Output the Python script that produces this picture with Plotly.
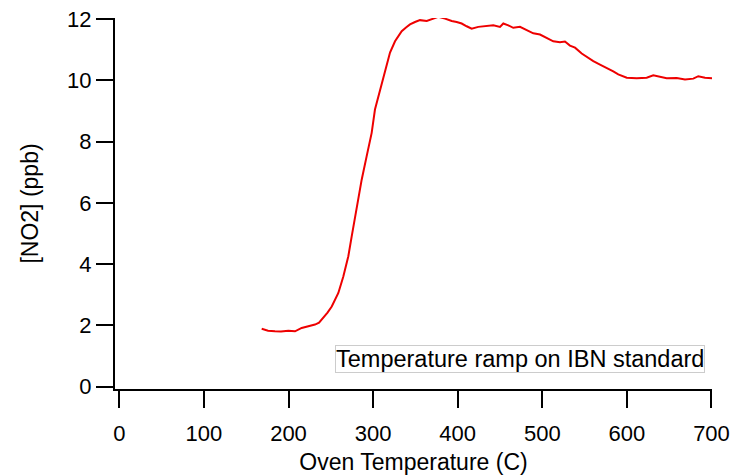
import plotly.graph_objects as go

oven_temp_c = [168.3, 175.8, 184.0, 191.1, 199.8, 207.7, 215.6, 223.0, 231.3, 236.1,
               241.1, 246.1, 251.1, 255.0, 258.9, 264.8, 270.7, 274.7, 278.6, 282.2,
               286.5, 292.4, 298.3, 302.2, 308.2, 314.1, 320.0, 325.9, 333.8, 338.9,
               343.6, 349.5, 355.4, 363.4, 369.3, 377.1, 385.0, 392.9, 398.8, 404.7,
               410.6, 416.5, 424.3, 434.3, 442.1, 450.0, 453.9, 459.8, 465.7, 473.6,
               481.6, 489.4, 497.3, 505.2, 513.0, 520.9, 526.8, 532.7, 538.7, 546.6,
               554.4, 560.3, 568.2, 576.1, 583.9, 589.8, 599.8, 611.6, 623.4, 631.2,
               639.1, 647.0, 658.9, 668.7, 678.5, 684.4, 692.3, 701.2]
no2_ppb = [1.89, 1.83, 1.81, 1.80, 1.83, 1.81, 1.92, 1.96, 2.03, 2.09,
           2.25, 2.42, 2.62, 2.84, 3.06, 3.60, 4.26, 4.91, 5.57, 6.11,
           6.76, 7.53, 8.29, 9.05, 9.71, 10.36, 10.91, 11.28, 11.61, 11.73,
           11.83, 11.91, 11.97, 11.94, 11.99, 12.08, 12.02, 11.94, 11.91, 11.86,
           11.77, 11.69, 11.75, 11.77, 11.80, 11.75, 11.86, 11.80, 11.72, 11.75,
           11.64, 11.54, 11.50, 11.40, 11.28, 11.25, 11.27, 11.14, 11.07, 10.88,
           10.74, 10.63, 10.52, 10.42, 10.30, 10.20, 10.09, 10.07, 10.09, 10.17,
           10.12, 10.07, 10.08, 10.03, 10.06, 10.14, 10.09, 10.07]

x_ticks = [0, 100, 200, 300, 400, 500, 600, 700]
y_ticks = [0, 2, 4, 6, 8, 10, 12]

FONT = "Liberation Sans, Arial, sans-serif"

fig = go.Figure()
fig.add_trace(go.Scatter(x=oven_temp_c, y=no2_ppb, mode="lines",
                         line=dict(color="#ee0000", width=2), showlegend=False))

fig.update_layout(
    width=735, height=475,
    margin=dict(l=115, r=23, t=18, b=86),
    plot_bgcolor="white", paper_bgcolor="white",
    font=dict(family=FONT, size=23, color="black"),
    xaxis=dict(range=[-5.1, 700.6], tickvals=x_ticks, ticks="outside", ticklen=17,
               tickwidth=2, tickcolor="black", showline=True, linecolor="black",
               linewidth=2, showgrid=False, zeroline=False, automargin=False,
               ticklabelstandoff=7,
               title=dict(text="Oven Temperature (C)", standoff=10, font=dict(size=23)),
               tickfont=dict(size=22)),
    yaxis=dict(range=[-0.075, 12.04], tickvals=y_ticks, ticks="outside", ticklen=17,
               tickwidth=2, tickcolor="black", showline=True, linecolor="black",
               linewidth=2, showgrid=False, zeroline=False, automargin=False,
               title=dict(text="[NO2] (ppb)", standoff=22, font=dict(size=23)),
               tickfont=dict(size=22)),
    annotations=[dict(text="Temperature ramp on IBN standard", xref="paper", yref="paper",
                      x=0.679, y=0.080, xanchor="center", yanchor="middle",
                      showarrow=False, font=dict(size=23.5),
                      bordercolor="#cccccc", borderwidth=1, borderpad=0,
                      bgcolor="white")],
)

fig.write_html("out.html")
